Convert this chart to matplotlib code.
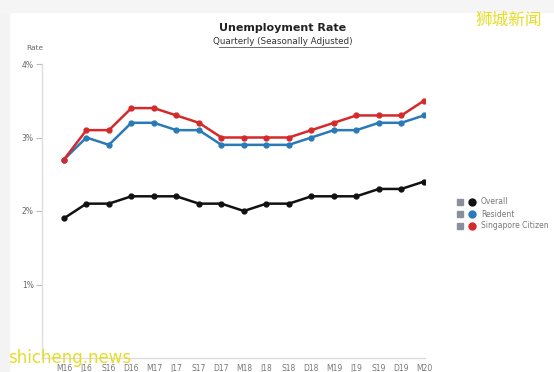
import matplotlib.pyplot as plt
from matplotlib.patches import Rectangle
from matplotlib.lines import Line2D

quarters = ['M16', 'J16', 'S16', 'D16', 'M17', 'J17', 'S17', 'D17', 'M18',
            'J18', 'S18', 'D18', 'M19', 'J19', 'S19', 'D19', 'M20']
overall = [1.9, 2.1, 2.1, 2.2, 2.2, 2.2, 2.1, 2.1, 2.0, 2.1, 2.1, 2.2, 2.2, 2.2, 2.3, 2.3, 2.4]
resident = [2.7, 3.0, 2.9, 3.2, 3.2, 3.1, 3.1, 2.9, 2.9, 2.9, 2.9, 3.0, 3.1, 3.1, 3.2, 3.2, 3.3]
citizen = [2.7, 3.1, 3.1, 3.4, 3.4, 3.3, 3.2, 3.0, 3.0, 3.0, 3.0, 3.1, 3.2, 3.3, 3.3, 3.3, 3.5]
series_names = ['Overall', 'Resident', 'Singapore Citizen']
colors = ['#111111', '#2a7ab8', '#d42a2a']

W, H = 554, 372
fig = plt.figure(figsize=(W / 100, H / 100), dpi=100)
fig.patch.set_facecolor('white')
# faint grey edge of the screenshot
fig.patches.append(Rectangle((0, 0), 9 / W, 1, transform=fig.transFigure,
                             color='#f3f3f3', zorder=0))
fig.patches.append(Rectangle((0, 1 - 12 / H), 1, 12 / H, transform=fig.transFigure,
                             color='#f5f5f5', zorder=0))

ax = fig.add_axes([42 / W, 14 / H, 383 / W, 294 / H])
x = list(range(len(quarters)))
# plot in draw order: overall, resident, citizen on top
for vals, c in zip([overall, resident, citizen], colors):
    ax.plot(x, vals, color=c, lw=1.8, marker='o', ms=3.5, zorder=3)

step = 361 / 16
ax.set_xlim(-22 / step, 16.05)
ax.set_ylim(0, 4)
ax.set_yticks([1, 2, 3, 4])
ax.set_yticklabels(['1%', '2%', '3%', '4%'])
ax.set_xticks(x)
ax.set_xticklabels(quarters)
ax.tick_params(axis='y', length=4, width=0.8, color='#bbbbbb', labelsize=5.5,
               labelcolor='#666666', pad=2)
ax.tick_params(axis='x', length=0, labelsize=5.5, labelcolor='#777777', pad=4)
for s in ['top', 'right']:
    ax.spines[s].set_visible(False)
for s in ['left', 'bottom']:
    ax.spines[s].set_color('#dddddd')
    ax.spines[s].set_linewidth(1.0)

fig.text(283 / W, 1 - 28 / H, 'Unemployment Rate', ha='center', va='center',
         fontsize=8, fontweight='bold', color='#222222')
fig.text(283 / W, 1 - 42 / H, 'Quarterly (Seasonally Adjusted)', ha='center',
         va='center', fontsize=6.3, color='#333333')
fig.add_artist(Line2D([219 / W, 348 / W], [1 - 47 / H, 1 - 47 / H],
                      color='#555555', lw=0.6))
fig.text(26 / W, 1 - 48 / H, 'Rate', ha='left', va='center', fontsize=5.3,
         color='#666666')

# legend
for i, (name, c) in enumerate(zip(series_names, colors)):
    yy = 1 - (202 + 12 * i) / H
    fig.patches.append(Rectangle((457 / W, yy - 3 / H), 6 / W, 6 / H,
                                 transform=fig.transFigure, color='#8a8f9e'))
    fig.add_artist(Line2D([472 / W], [yy], marker='o', ms=5, color=c, lw=0))
    fig.text(481 / W, yy, name, ha='left', va='center', fontsize=5.5,
             color='#777777')

# watermarks
fig.text(509 / W, 1 - 20 / H, '狮城新闻', ha='center', va='center', fontsize=12,
         color='#e6dd2a', family=['Noto Sans CJK SC', 'DejaVu Sans'])
fig.text(8 / W, 1 - 358 / H, 'shicheng.news', ha='left', va='center',
         fontsize=12, color='#e6dd2a')

fig.savefig('out.png', dpi=100)
